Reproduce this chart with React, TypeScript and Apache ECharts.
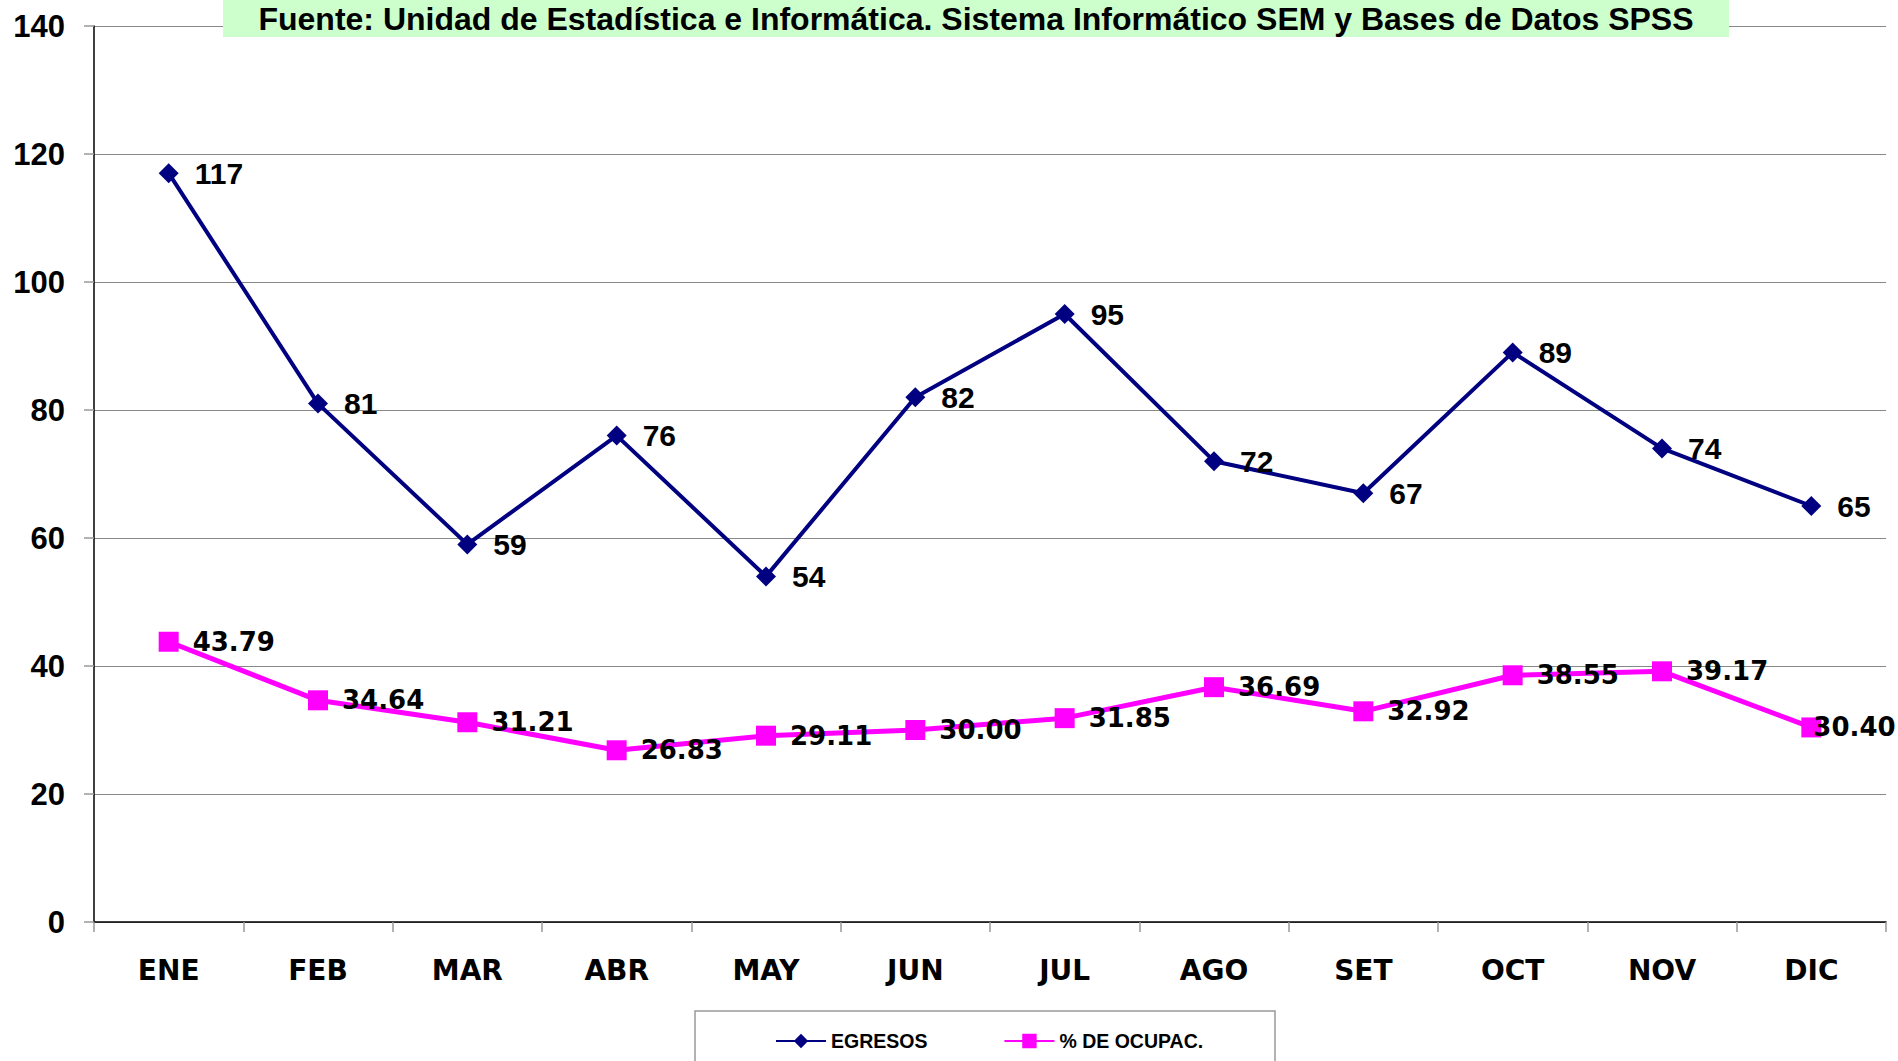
import React, { useEffect, useRef } from "react";
import * as echarts from "echarts";

const months = ["ENE", "FEB", "MAR", "ABR", "MAY", "JUN", "JUL", "AGO", "SET", "OCT", "NOV", "DIC"];
const egresos = [117, 81, 59, 76, 54, 82, 95, 72, 67, 89, 74, 65];
const ocupacion = [43.79, 34.64, 31.21, 26.83, 29.11, 30.0, 31.85, 36.69, 32.92, 38.55, 39.17, 30.4];
const yTicks = { min: 0, max: 140, interval: 20 };
const titleText = "Fuente: Unidad de Estadística e Informática. Sistema Informático SEM y Bases de Datos SPSS";

export default function App() {
  const ref = useRef<HTMLDivElement>(null);
  useEffect(() => {
    if (!ref.current) return;
    const chart = echarts.init(ref.current, null, { renderer: "svg" });
    const ocupData = ocupacion.map((v, i) =>
      i === ocupacion.length - 1 ? { value: v, label: { distance: -8 } } : v
    );
    chart.setOption({
      animation: false,
      backgroundColor: "#ffffff",
      grid: { left: 94, right: 12, top: 26, bottom: 139, containLabel: false },
      xAxis: {
        type: "category",
        data: months,
        boundaryGap: true,
        axisLine: { show: true, lineStyle: { color: "#000", width: 1.5 } },
        axisTick: { show: true, length: 10, lineStyle: { color: "#999", width: 1.5 } },
        axisLabel: {
          margin: 34,
          color: "#000",
          fontFamily: "DejaVu Sans",
          fontWeight: "bold",
          fontSize: 28,
        },
        splitLine: { show: false },
      },
      yAxis: {
        type: "value",
        min: yTicks.min,
        max: yTicks.max,
        interval: yTicks.interval,
        axisLine: { show: true, lineStyle: { color: "#000", width: 1.5 } },
        axisTick: { show: true, length: 10, lineStyle: { color: "#999", width: 1.5 } },
        axisLabel: {
          margin: 29,
          color: "#000",
          fontFamily: "Liberation Sans",
          fontWeight: "bold",
          fontSize: 31,
        },
        splitLine: { show: true, lineStyle: { color: "#888", width: 1 } },
      },
      legend: {
        left: 770,
        top: 1026,
        itemWidth: 50,
        itemHeight: 18,
        itemGap: 76,
        textStyle: {
          color: "#000",
          fontFamily: "Liberation Sans",
          fontWeight: "bold",
          fontSize: 19.5,
        },
        data: ["EGRESOS", "% DE OCUPAC."],
      },
      series: [
        {
          name: "EGRESOS",
          type: "line",
          data: egresos,
          symbol: "diamond",
          symbolSize: 20,
          lineStyle: { color: "#000080", width: 4 },
          itemStyle: { color: "#000080" },
          label: {
            show: true,
            position: "right",
            distance: 16,
            color: "#000",
            fontFamily: "Liberation Sans",
            fontWeight: "bold",
            fontSize: 30,
          },
          z: 3,
        },
        {
          name: "% DE OCUPAC.",
          type: "line",
          data: ocupData,
          symbol: "rect",
          symbolSize: 20,
          lineStyle: { color: "#FF00FF", width: 5 },
          itemStyle: { color: "#FF00FF" },
          label: {
            show: true,
            position: "right",
            distance: 14,
            color: "#000",
            fontFamily: "DejaVu Sans",
            fontWeight: "bold",
            fontSize: 26,
            formatter: (p: any) => Number(p.value).toFixed(2),
          },
          z: 3,
        },
      ],
      graphic: [
        {
          type: "rect",
          shape: { x: 223, y: 0, width: 1506, height: 37 },
          style: { fill: "#CCFFCC" },
          z: 10,
        },
        {
          type: "text",
          x: 976,
          y: 19,
          style: {
            text: titleText,
            fill: "#000",
            font: "bold 32px 'Liberation Sans', Arial, sans-serif",
            textAlign: "center",
            textVerticalAlign: "middle",
          },
          z: 11,
        },
        {
          type: "rect",
          shape: { x: 695, y: 1011, width: 580, height: 60 },
          style: { fill: "none", stroke: "#999", lineWidth: 1.5 },
          z: 1,
        },
      ],
    });
    return () => chart.dispose();
  }, []);
  return (
    <div
      ref={ref}
      style={{ position: "fixed", left: 0, top: 0, width: 1898, height: 1061 }}
    />
  );
}
